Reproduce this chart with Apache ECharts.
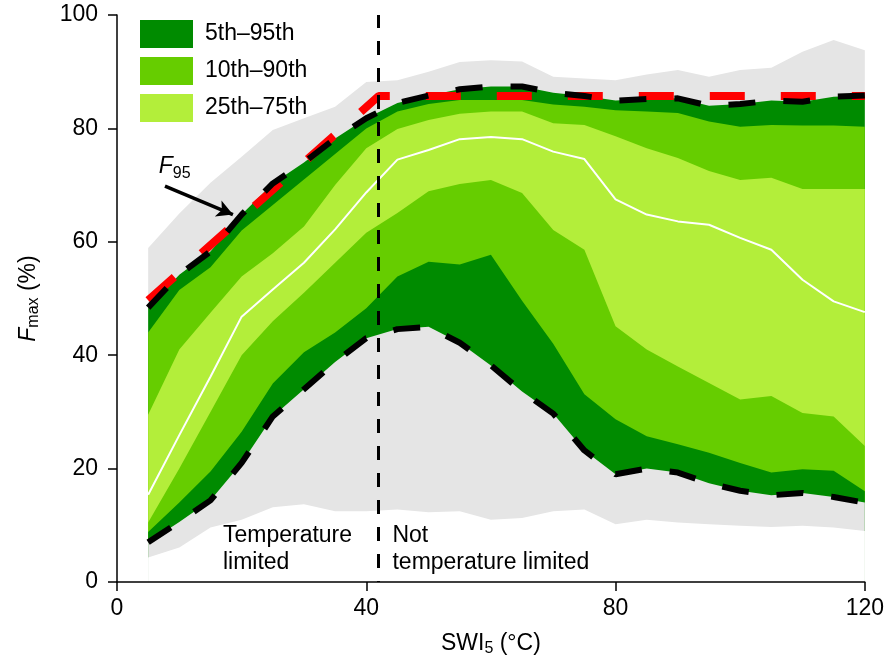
<!DOCTYPE html>
<html lang="en">
<head>
<meta charset="UTF-8">
<title>Fmax vs SWI5</title>
<script src="https://cdn.jsdelivr.net/npm/echarts@6/dist/echarts.min.js"></script>
<style>
    html, body { margin: 0; padding: 0; background: #fff; }
    #main { width: 887px; height: 662px; }
</style>
</head>
<body>
<div id="main"></div>
<script>
// SWI5 sample points (x)
var swi = [5, 10, 15, 20, 25, 30, 35, 40, 45, 50, 55, 60, 65, 70, 75, 80, 85, 90, 95, 100, 105, 110, 115, 120];

// percentiles of Fmax (%) at each SWI5
var pMax = [58.9, 65.0, 70.4, 75.0, 79.7, 81.8, 83.8, 88.2, 88.5, 90.0, 91.7, 92.0, 91.8, 89.1, 88.8, 88.5, 89.5, 90.3, 89.1, 90.3, 90.7, 93.5, 95.6, 93.8];
var p95 = [48.4, 54.2, 58.3, 64.8, 70.3, 74.0, 78.2, 81.8, 84.5, 85.8, 86.9, 87.4, 87.4, 86.3, 85.7, 84.9, 85.2, 85.3, 84.0, 84.3, 84.9, 84.7, 85.6, 85.8];
var p90 = [44.0, 51.5, 55.5, 62.0, 66.5, 71.0, 75.5, 80.0, 83.0, 84.3, 85.0, 85.0, 85.0, 84.2, 83.8, 83.2, 83.0, 82.7, 81.2, 80.3, 80.6, 80.5, 80.5, 80.3];
var p75 = [29.5, 41.0, 47.5, 53.9, 58.0, 62.7, 70.0, 76.5, 79.9, 81.5, 82.6, 83.0, 83.0, 80.9, 80.6, 78.6, 76.5, 74.8, 72.5, 70.9, 71.3, 69.3, 69.3, 69.3];
var p50 = [15.4, 25.9, 36.2, 46.8, 51.6, 56.3, 62.2, 68.7, 74.5, 76.2, 78.1, 78.5, 78.1, 75.9, 74.6, 67.5, 64.8, 63.6, 63.0, 60.7, 58.6, 53.3, 49.5, 47.6];
var p25 = [10.5, 20.0, 30.0, 40.0, 46.0, 51.0, 56.3, 61.6, 65.1, 68.9, 70.2, 70.9, 68.6, 62.1, 58.6, 45.1, 41.0, 38.0, 35.1, 32.2, 32.8, 29.8, 29.2, 24.0];
var p10 = [8.8, 14.0, 19.5, 26.5, 35.0, 40.5, 44.0, 48.3, 53.9, 56.5, 56.0, 57.7, 49.6, 42.0, 33.1, 28.7, 25.7, 24.3, 22.8, 21.0, 19.3, 19.9, 19.6, 16.0];
var p5 = [7.0, 10.6, 14.4, 21.0, 29.2, 34.0, 38.8, 43.0, 44.6, 45.0, 42.2, 38.2, 33.6, 29.7, 23.2, 19.0, 20.0, 19.3, 17.4, 16.1, 15.3, 15.7, 15.0, 14.0];
var pMin = [4.3, 6.1, 9.6, 11.0, 13.2, 13.7, 12.5, 12.5, 12.8, 12.3, 12.5, 11.0, 11.3, 12.5, 12.8, 10.2, 11.0, 10.5, 10.2, 9.9, 9.7, 9.9, 9.6, 9.0];

// F95 fitted envelope
var f95X = [5, 42, 120];
var f95Y = [49.7, 85.7, 85.7];

// temperature limit threshold
var tLimit = 42;

var bandNames = ['5th–95th', '10th–90th', '25th–75th'];
var xTicks = [0, 40, 80, 120];
var yTicks = [0, 20, 40, 60, 80, 100];

var dark = '#008B00', mid = '#66CD00', light = '#B3EE3A', grey = '#E5E5E5';
var font = '"Liberation Sans", Arial, Helvetica, sans-serif';
var fs = 23;

function pts(xs, ys) {
    return xs.map(function (x, i) { return [x, ys[i]]; });
}

// each layer fills from its line down to the axis, drawn in order
function fill(name, ys, color) {
    return {
        name: name,
        type: 'line',
        data: pts(swi, ys),
        symbol: 'none',
        silent: true,
        lineStyle: { width: 0 },
        itemStyle: { color: color },
        areaStyle: { color: color, opacity: 1, origin: 'start' }
    };
}

function dashed(name, ys, color, width, dash) {
    return {
        name: name,
        type: 'line',
        data: ys,
        symbol: 'none',
        silent: true,
        lineStyle: { color: color, width: width, type: dash, cap: 'butt' }
    };
}

var rich = {
    n: { fontSize: fs, lineHeight: fs, verticalAlign: 'top', fontFamily: font, color: '#000' },
    i: { fontSize: fs, lineHeight: fs, verticalAlign: 'top', fontStyle: 'italic', fontFamily: font, color: '#000' },
    s: { fontSize: 16, lineHeight: 16, padding: [11, 0, 0, 0], fontFamily: font, color: '#000' }
};

var chart = echarts.init(document.getElementById('main'));

var option = {
    animation: false,
    grid: { left: 117, right: 20, top: 15, bottom: 79 },
    legend: {
        orient: 'vertical',
        left: 140,
        top: 20,
        padding: 0,
        itemWidth: 53,
        itemHeight: 28,
        itemGap: 9,
        selectedMode: false,
        textStyle: { fontSize: fs, color: '#000', fontFamily: font, padding: [0, 0, 0, 7] },
        data: [
            { name: bandNames[0], icon: 'rect', itemStyle: { color: dark } },
            { name: bandNames[1], icon: 'rect', itemStyle: { color: mid } },
            { name: bandNames[2], icon: 'rect', itemStyle: { color: light } }
        ]
    },
    xAxis: {
        type: 'value',
        min: xTicks[0],
        max: xTicks[xTicks.length - 1],
        interval: xTicks[1] - xTicks[0],
        z: 10,
        name: '{n|SWI}{s|5}{n| (°C)}',
        nameLocation: 'middle',
        nameGap: 50,
        nameTextStyle: { rich: rich },
        splitLine: { show: false },
        axisLine: { lineStyle: { color: '#000', width: 1.5 } },
        axisTick: { length: 9, lineStyle: { color: '#000', width: 1.5 } },
        axisLabel: { fontSize: fs, color: '#000', margin: 15, fontFamily: font }
    },
    yAxis: {
        type: 'value',
        min: yTicks[0],
        max: yTicks[yTicks.length - 1],
        interval: yTicks[1] - yTicks[0],
        z: 10,
        name: '{i|F}{s|max}{n| (%)}',
        nameLocation: 'middle',
        nameGap: 77,
        nameTextStyle: { rich: rich },
        splitLine: { show: false },
        axisLine: { show: true, lineStyle: { color: '#000', width: 1.5 } },
        axisTick: { show: true, length: 9, lineStyle: { color: '#000', width: 1.5 } },
        axisLabel: { fontSize: fs, color: '#000', margin: 19, fontFamily: font }
    },
    series: [
        fill('max', pMax, grey),
        fill(bandNames[0], p95, dark),
        fill(bandNames[1], p90, mid),
        fill(bandNames[2], p75, light),
        fill('p25', p25, mid),
        fill('p10', p10, dark),
        fill('p5', p5, grey),
        fill('min', pMin, '#fff'),
        {
            name: 'median',
            type: 'line',
            data: pts(swi, p50),
            symbol: 'none',
            silent: true,
            lineStyle: { color: '#fff', width: 2 }
        },
        Object.assign(dashed('F95', pts(f95X, f95Y), '#ff0000', 8, [35, 36]), {
            markLine: {
                silent: true,
                symbol: ['none', 'arrow'],
                symbolSize: [13, 16],
                label: { show: false },
                lineStyle: { color: '#000', width: 3.5, type: 'solid' },
                data: [[{ coord: [7.7, 69.8] }, { coord: [18.6, 64.8] }]]
            }
        }),
        dashed('upper', pts(swi, p95), '#000', 6, [27, 28]),
        Object.assign(dashed('lower', pts(swi, p5), '#000', 6, [27, 28]), {
            markLine: {
                silent: true,
                symbol: 'none',
                label: { show: false },
                lineStyle: { color: '#000', width: 3, type: [14, 13], dashOffset: 13 },
                data: [{ xAxis: tLimit }]
            }
        })
    ]
};

chart.setOption(option);

// annotation texts anchored to data coordinates
function px(x, y) {
    return chart.convertToPixel({ gridIndex: 0 }, [x, y]);
}
var a = px(17, 10.5), b = px(44.2, 10.5), c = px(6.7, 75.3);
chart.setOption({
    graphic: [
        {
            type: 'text', x: a[0], y: a[1], z: 100,
            style: { text: 'Temperature\nlimited', font: fs + 'px ' + font, lineHeight: 27, fill: '#000', align: 'left', verticalAlign: 'top' }
        },
        {
            type: 'text', x: b[0], y: b[1], z: 100,
            style: { text: 'Not\ntemperature limited', font: fs + 'px ' + font, lineHeight: 27, fill: '#000', align: 'left', verticalAlign: 'top' }
        },
        {
            type: 'text', x: c[0], y: c[1], z: 100,
            style: {
                text: '{i|F}{t|95}',
                align: 'left', verticalAlign: 'top',
                rich: {
                    i: rich.i,
                    t: { fontSize: 16, lineHeight: 16, padding: [14, 0, 0, 0], fontFamily: font, color: '#000' }
                }
            }
        }
    ]
});
</script>
</body>
</html>
